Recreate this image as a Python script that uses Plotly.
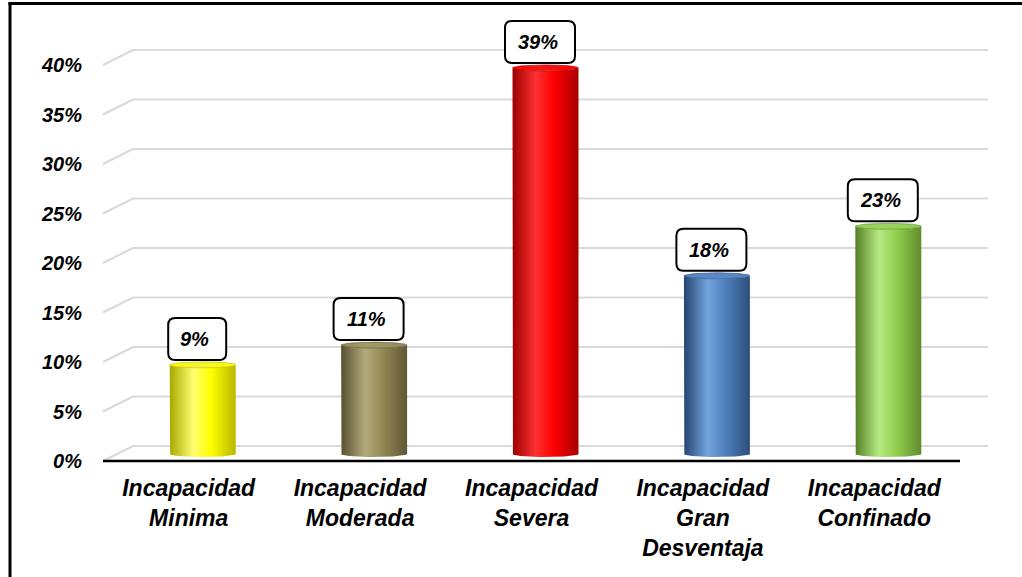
import numpy as np
import plotly.graph_objects as go

# ---------------- data ----------------
categories = ["Incapacidad<br>Minima", "Incapacidad<br>Moderada", "Incapacidad<br>Severa",
              "Incapacidad<br>Gran<br>Desventaja", "Incapacidad<br>Confinado"]
values = [9, 11, 39, 18, 23]
value_labels = ["9%", "11%", "39%", "18%", "23%"]
y_ticks = [0, 5, 10, 15, 20, 25, 30, 35, 40]
y_tick_labels = ["0%", "5%", "10%", "15%", "20%", "25%", "30%", "35%", "40%"]

# cylinder colours: (left edge, highlight, base, right edge, top)
bar_colors = [
    ("#A8A800", "#FFFF70", "#FFFF00", "#B8B800", "#F4F430"),
    ("#575030", "#B3A97C", "#948A54", "#5F5636", "#A39A68"),
    ("#9C0000", "#FF3030", "#FF0000", "#A80000", "#F01818"),
    ("#244470", "#74A4DE", "#4F81BD", "#2C4E7C", "#5A8CCB"),
    ("#557F25", "#B6EA82", "#92D050", "#5E8C2C", "#9CD45E"),
]

# ---------------- geometry (style) ----------------
W, H = 1022, 577
FRONT_L, FRONT_R = 103, 960      # front floor line (px)
Y0_PX = 461                      # 0% on the front plane (px)
PX_PER = 9.9                     # px per percentage point
Y_MIN, Y_MAX = -1, 45
BAR_DX, BAR_DY = 14, 7           # bars sit mid-depth
GRID_DX, GRID_DY = 30, 15        # back wall offset
GRID_RIGHT = 988
BAR_W = 0.385
RY_PX = 3

def py(p):
    return (H - p) / H

def px(p):
    return p / W

main_bottom = Y0_PX + (0 - Y_MIN) * PX_PER
main_top = Y0_PX - Y_MAX * PX_PER

fig = go.Figure()

ry = RY_PX / PX_PER
h = BAR_W / 2
for i, (v, cols) in enumerate(zip(values, bar_colors)):
    left, light, base, right, top = cols
    t_bot = np.linspace(np.pi, 2 * np.pi, 40)
    t_top = np.linspace(0, -np.pi, 40)
    xs = [i - h, i - h] + list(i + h * np.cos(t_bot)) + [i + h, i + h] + list(i + h * np.cos(t_top))
    ys = [v, 0] + list(ry * np.sin(t_bot)) + [0, v] + list(v + ry * np.sin(t_top))
    fig.add_trace(go.Scatter(
        x=xs, y=ys, xaxis="x2", yaxis="y2", mode="lines", fill="toself",
        line=dict(width=0), hoverinfo="skip", showlegend=False,
        fillgradient=dict(type="horizontal",
                          colorscale=[[0, left], [0.36, light], [0.62, base], [1, right]]),
    ))
    t = np.linspace(0, 2 * np.pi, 80)
    fig.add_trace(go.Scatter(
        x=list(i + h * np.cos(t)), y=list(v + ry * np.sin(t)), xaxis="x2", yaxis="y2",
        mode="lines", fill="toself", line=dict(width=0.6, color=right),
        hoverinfo="skip", showlegend=False,
        fillgradient=dict(type="horizontal",
                          colorscale=[[0, base], [0.4, top], [1, base]]),
    ))

shapes = []
# back-wall gridlines with perspective diagonal
d = GRID_DY / PX_PER
for v in y_ticks:
    shapes.append(dict(
        type="path", xref="paper", yref="y", layer="below",
        path=f"M {px(FRONT_L)},{v} L {px(FRONT_L + GRID_DX)},{v + d} L {px(GRID_RIGHT)},{v + d}",
        line=dict(color="#D9D9D9", width=2),
    ))
# front floor line
shapes.append(dict(type="line", xref="x domain", yref="y", x0=0, x1=1, y0=0, y1=0,
                   line=dict(color="black", width=2.5)))
# frame
shapes.append(dict(type="line", xref="paper", yref="paper", x0=px(10), x1=px(10),
                   y0=0, y1=py(2), line=dict(color="black", width=3)))
shapes.append(dict(type="line", xref="paper", yref="paper", x0=px(8.5), x1=1,
                   y0=py(3.5), y1=py(3.5), line=dict(color="black", width=3)))

# rounded data-label boxes
annotations = []
r = 7
for i, (v, lab) in enumerate(zip(values, value_labels)):
    bw = 34 + 12 * len(lab)
    x0, x1 = -5.5 - bw / 2, -5.5 + bw / 2
    y0, y1 = 5, 47
    path = (f"M {x0 + r},{y0} L {x1 - r},{y0} Q {x1},{y0} {x1},{y0 + r} "
            f"L {x1},{y1 - r} Q {x1},{y1} {x1 - r},{y1} L {x0 + r},{y1} "
            f"Q {x0},{y1} {x0},{y1 - r} L {x0},{y0 + r} Q {x0},{y0} {x0 + r},{y0} Z")
    shapes.append(dict(type="path", xref="x2", yref="y2", xsizemode="pixel",
                       ysizemode="pixel", xanchor=i, yanchor=v, path=path,
                       fillcolor="white", line=dict(color="black", width=2), layer="above"))
    annotations.append(dict(x=i, y=v, xref="x2", yref="y2", text=lab, showarrow=False,
                            xshift=-8, yshift=26,
                            font=dict(family="Liberation Sans", size=20, color="black",
                                      weight="bold", style="italic")))

fig.update_layout(
    width=W, height=H,
    margin=dict(l=0, r=0, t=0, b=0),
    paper_bgcolor="white", plot_bgcolor="rgba(0,0,0,0)",
    showlegend=False,
    shapes=shapes, annotations=annotations,
    xaxis=dict(domain=[px(FRONT_L), px(FRONT_R)], range=[-0.5, 4.5],
               tickvals=list(range(len(categories))), ticktext=categories,
               showgrid=False, zeroline=False, showline=False, ticks="",
               ticklabelstandoff=1, fixedrange=True,
               tickfont=dict(family="Liberation Sans", size=23, color="black",
                             weight="bold", style="italic")),
    yaxis=dict(domain=[py(main_bottom), py(main_top)], range=[Y_MIN, Y_MAX],
               tickvals=y_ticks, ticktext=y_tick_labels,
               showgrid=False, zeroline=False, showline=False, ticks="",
               ticklabelstandoff=20, fixedrange=True,
               tickfont=dict(family="Liberation Sans", size=20, color="black",
                             weight="bold", style="italic")),
    xaxis2=dict(domain=[px(FRONT_L + BAR_DX), px(FRONT_R + BAR_DX)], range=[-0.5, 4.5],
                anchor="y2", visible=False, fixedrange=True),
    yaxis2=dict(domain=[py(main_bottom - BAR_DY), py(main_top - BAR_DY)],
                range=[Y_MIN, Y_MAX], anchor="x2", visible=False, fixedrange=True),
)

fig.write_html("out.html", config={"displayModeBar": False},
               post_script="document.body.style.margin='0';")
